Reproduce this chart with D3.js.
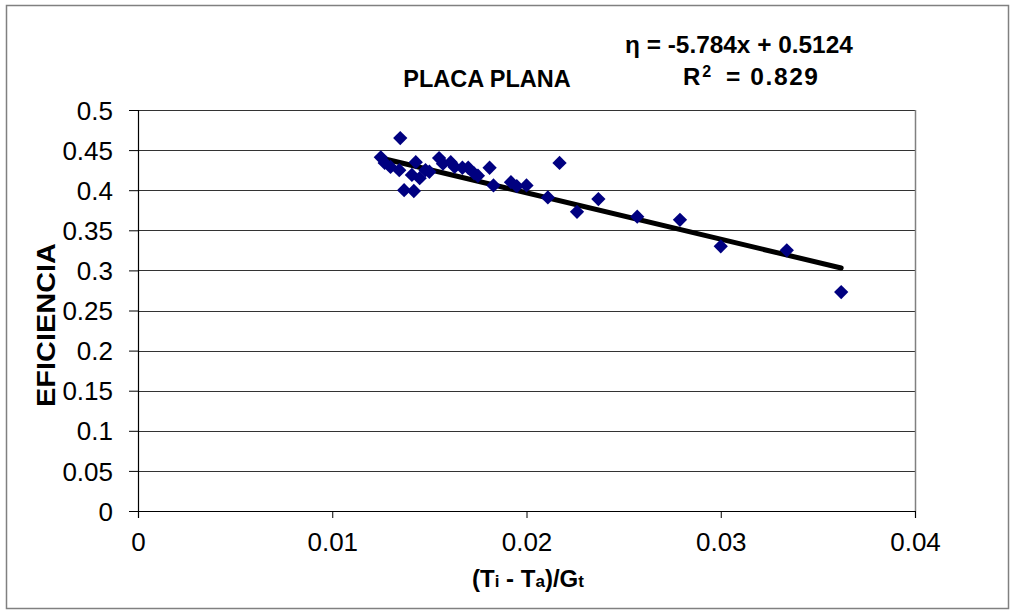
<!DOCTYPE html>
<html><head><meta charset="utf-8">
<script src="https://cdn.jsdelivr.net/npm/d3@7"></script>
<style>body{margin:0;background:#fff}svg{display:block;font-family:"Liberation Sans",Arial,sans-serif}</style>
</head><body><svg id="c" width="1015" height="615"></svg>
<script>
const xValues = [0.0125,0.0127,0.0130,0.0135,0.01345,0.0137,0.0142,0.0141,0.0143,0.0145,0.0148,0.0150,0.0155,0.0157,0.0161,0.0163,0.0167,0.0170,0.0173,0.0175,0.0181,0.0183,0.0192,0.0195,0.0200,0.0211,0.0217,0.0226,0.0237,0.0257,0.0279,0.0300,0.0334,0.0362];
const yValues = [0.441,0.434,0.429,0.465,0.425,0.400,0.399,0.419,0.435,0.415,0.425,0.423,0.440,0.433,0.435,0.429,0.428,0.428,0.421,0.418,0.428,0.406,0.410,0.405,0.406,0.391,0.434,0.373,0.389,0.367,0.363,0.330,0.325,0.273];
const trendSlope = -5.784, trendIntercept = 0.5124;
const xTicks = [0, 0.01, 0.02, 0.03, 0.04];
const yTicks = [0,0.05,0.1,0.15,0.2,0.25,0.3,0.35,0.4,0.45,0.5];

const svg = d3.select("#c");
const L=138, R=915, T=110, B=511;
const x = d3.scaleLinear().domain([0,0.04]).range([L,R]);
const y = d3.scaleLinear().domain([0,0.5]).range([B,T]);
const FONT = "Liberation Sans, Arial, sans-serif";

svg.append("rect").attr("x",6.5).attr("y",5.5).attr("width",1002).attr("height",603)
  .attr("fill","#fff").attr("stroke","#808080").attr("stroke-width",1.5);

// gridlines
svg.append("g").selectAll("line").data(yTicks.filter(d=>d>0)).join("line")
  .attr("x1",L).attr("x2",R).attr("y1",d=>Math.round(y(d))+0.5).attr("y2",d=>Math.round(y(d))+0.5)
  .attr("stroke","#333").attr("stroke-width",1);
svg.append("line").attr("x1",R+0.5).attr("x2",R+0.5).attr("y1",T).attr("y2",B).attr("stroke","#808080").attr("stroke-width",1.5);

// axes
const yAxis = d3.axisLeft(y).tickValues(yTicks).tickSize(9).tickPadding(16).tickFormat(d=>String(+d.toFixed(2)));
const gy = svg.append("g").attr("transform",`translate(${L},0)`).call(yAxis);
const xAxis = d3.axisBottom(x).tickValues(xTicks).tickSize(7).tickPadding(15).tickFormat(d=>String(+d.toFixed(2)));
const gx = svg.append("g").attr("transform",`translate(0,${B})`).call(xAxis);
[gx,gy].forEach(g=>{
  g.select(".domain").attr("stroke","#000").attr("stroke-width",1.2);
  g.selectAll(".tick line").attr("stroke","#000");
  g.selectAll("text").attr("font-size",26).attr("fill","#000").attr("font-family",FONT);
});
gy.selectAll("text").attr("dy","0.35em");
gx.selectAll("text").attr("dy","0.71em");

// trend line
const xmin = d3.min(xValues), xmax = d3.max(xValues);
svg.append("line")
  .attr("x1",x(xmin)).attr("y1",y(trendSlope*xmin+trendIntercept))
  .attr("x2",x(xmax)).attr("y2",y(trendSlope*xmax+trendIntercept))
  .attr("stroke","#000").attr("stroke-width",5).attr("stroke-linecap","round");

// points
const sym = d3.symbol().type(d3.symbolDiamond2).size(130);
svg.append("g").selectAll("path").data(xValues.map((v,i)=>[v,yValues[i]])).join("path")
  .attr("d",sym).attr("transform",d=>`translate(${x(d[0])},${y(d[1])})`)
  .attr("fill","#000080");

// texts
svg.append("text").attr("x",487).attr("y",87).attr("text-anchor","middle")
  .attr("font-size",23.5).attr("font-weight","bold").text("PLACA PLANA");
svg.append("text").attr("x",625).attr("y",53).attr("text-anchor","start")
  .attr("font-size",24.4).attr("font-weight","bold").text("η = -5.784x + 0.5124");
const r2 = svg.append("text").attr("x",683).attr("y",85).attr("text-anchor","start")
  .attr("font-size",24).attr("font-weight","bold");
r2.append("tspan").text("R");
r2.append("tspan").attr("font-size",16).attr("dx",2).attr("dy",-8).text("2");
svg.append("text").attr("x",726).attr("y",85).attr("text-anchor","start")
  .attr("font-size",24.5).attr("font-weight","bold").attr("textLength",92).attr("lengthAdjust","spacing").text("= 0.829");
svg.append("text").attr("transform","translate(55,325) rotate(-90)").attr("text-anchor","middle")
  .attr("font-size",25).attr("font-weight","bold")
  .attr("textLength",164).attr("lengthAdjust","spacingAndGlyphs").text("EFICIENCIA");
const xt = svg.append("text").attr("x",528).attr("y",587).attr("text-anchor","middle")
  .attr("font-size",24).attr("font-weight","bold");
xt.append("tspan").text("(T");
xt.append("tspan").attr("font-size",17).text("i");
xt.append("tspan").text(" - T");
xt.append("tspan").attr("font-size",17).text("a");
xt.append("tspan").text(")/G");
xt.append("tspan").attr("font-size",17).text("t");
</script></body></html>
